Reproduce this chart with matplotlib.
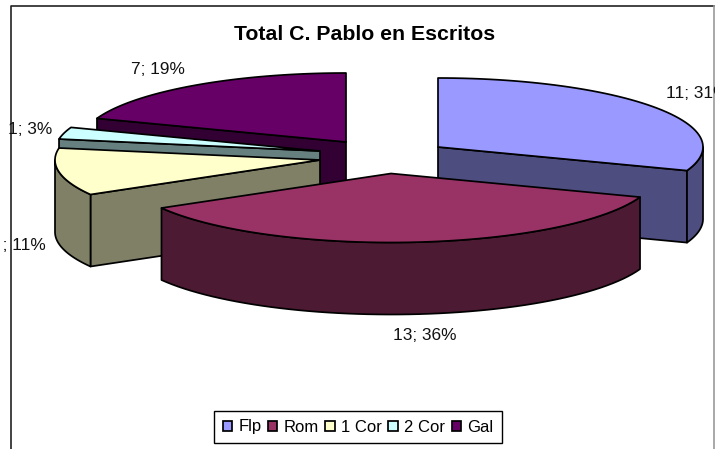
import numpy as np
import matplotlib
matplotlib.use("Agg")
import matplotlib.pyplot as plt
from matplotlib.patches import Polygon, Patch, Rectangle

plt.rcParams['font.family'] = ['Liberation Sans', 'DejaVu Sans']

# data
names = ['Flp', 'Rom', '1 Cor', '2 Cor', 'Gal']
values = [11, 13, 4, 1, 7]
title_text = 'Total C. Pablo en Escritos'

# styles
top_colors = ['#9999FF', '#993366', '#FFFFCC', '#CCFFFF', '#660066']
side_colors = ['#4D4D80', '#4D1A33', '#808066', '#668080', '#330033']

# layout, pixels of the 715x449 picture
apex_x = [438, 391, 320, 320, 346]
apex_y = [147, 173.5, 160, 151, 142]
label_x = [697.5, 424.5, 19, 30, 158]
label_y = [94, 335, 246, 129, 69]
rx, ry, depth = 265, 69, 72
draw_order = [4, 0, 3, 2, 1]

total = sum(values)
ends = np.cumsum(values) / total * 360
starts = np.concatenate([[0], ends[:-1]])


def rim(cx, cy, a0, a1):
    t = np.radians(np.linspace(a0, a1, 60))
    return np.column_stack([cx + rx * np.sin(t), cy - ry * np.cos(t)])


def add_poly(ax, pts, color):
    ax.add_patch(Polygon(pts, closed=True, facecolor=color, edgecolor='black',
                         linewidth=1.25, joinstyle='round'))


fig = plt.figure(figsize=(7.15, 4.49), dpi=100, facecolor='white')
ax = fig.add_axes([0, 0, 1, 1])
ax.set_xlim(0, 715)
ax.set_ylim(449, 0)
ax.axis('off')

# chart frame
ax.plot([11, 11, 714], [449, 6, 6], color='#222222', lw=1.2)
ax.plot([714, 714], [6, 449], color='#999999', lw=1.2)

for i in draw_order:
    cx, cy = apex_x[i], apex_y[i]
    a0, a1 = starts[i], ends[i]
    edge = None
    if a1 < 180:
        edge = rim(cx, cy, a1, a1)[0]
    elif a0 > 180:
        edge = rim(cx, cy, a0, a0)[0]
    if edge is not None:
        add_poly(ax, [(cx, cy), edge, edge + [0, depth], (cx, cy + depth)], side_colors[i])
    lo, hi = max(a0, 90), min(a1, 270)
    if hi > lo:
        arc = rim(cx, cy, lo, hi)
        add_poly(ax, np.vstack([arc, arc[::-1] + [0, depth]]), side_colors[i])
    add_poly(ax, np.vstack([[(cx, cy)], rim(cx, cy, a0, a1)]), top_colors[i])

for i, v in enumerate(values):
    t = ax.text(label_x[i], label_y[i], f'{v}; {round(v / total * 100)}%',
                fontsize=12.4, color='#111111', ha='center', va='center')
    t.set_clip_path(Rectangle((3, 0), 712, 449, transform=ax.transData))
    t.set_clip_on(True)

ax.text(365, 34.5, title_text, fontsize=15.3, fontweight='bold', ha='center', va='center')

handles = [Patch(facecolor=c, edgecolor='black', linewidth=1.25) for c in top_colors]
leg = ax.legend(handles, names, ncol=5, loc='center', bbox_to_anchor=(358, 427),
                bbox_transform=ax.transData, fontsize=12, frameon=True, fancybox=False,
                edgecolor='black', framealpha=1, handlelength=0.55, handleheight=0.55,
                handletextpad=0.38, columnspacing=0.4, borderpad=0.5, borderaxespad=0)
leg.get_frame().set_linewidth(1.0)

fig.savefig('out.png', dpi=100)
